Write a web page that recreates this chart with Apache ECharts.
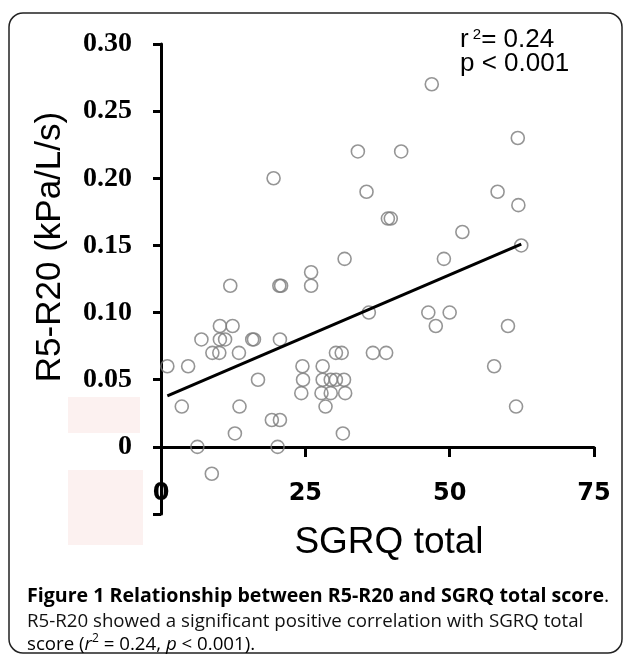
<!DOCTYPE html>
<html>
<head>
<meta charset="utf-8">
<script src="https://cdn.jsdelivr.net/npm/echarts@6/dist/echarts.min.js"></script>
<style>
html,body{margin:0;padding:0;background:#fff;}
#c{width:629px;height:656px;}
</style>
</head>
<body>
<div id="c"></div>
<script>
// SGRQ total score (x) and R5-R20 (kPa/L/s) (y)
var sgrq = [1.1, 3.6, 4.7, 6.3, 7.0, 8.8, 8.9, 10.1, 10.2, 10.2, 11.1, 12.0, 12.4, 12.8, 13.5, 13.6,
  15.8, 16.1, 16.8, 19.2, 19.5, 20.2, 20.6, 20.6, 20.5, 20.8, 24.5, 24.6, 24.3, 26.0, 26.0,
  28.0, 28.0, 27.8, 28.5, 29.4, 29.4, 30.3, 30.3, 31.3, 31.7, 31.9, 31.5, 31.8, 34.1, 35.6,
  36.0, 36.7, 39.0, 39.3, 39.8, 41.6, 46.3, 46.9, 47.6, 49.0, 50.0, 52.2, 57.7, 58.3, 60.1,
  61.5, 61.8, 61.9, 62.4];
var r5r20 = [0.06, 0.03, 0.06, 0.00, 0.08, -0.02, 0.07, 0.07, 0.09, 0.08, 0.08, 0.12, 0.09, 0.01, 0.07, 0.03,
  0.08, 0.08, 0.05, 0.02, 0.20, 0.00, 0.02, 0.08, 0.12, 0.12, 0.06, 0.05, 0.04, 0.13, 0.12,
  0.06, 0.05, 0.04, 0.03, 0.05, 0.04, 0.05, 0.07, 0.07, 0.05, 0.04, 0.01, 0.14, 0.22, 0.19,
  0.10, 0.07, 0.07, 0.17, 0.17, 0.22, 0.10, 0.27, 0.09, 0.14, 0.10, 0.16, 0.06, 0.19, 0.09,
  0.03, 0.23, 0.18, 0.15];
// regression line end points
var fitX = [1.1, 62.4];
var fitY = [0.038, 0.151];

var pts = sgrq.map(function (x, i) { return [x, r5r20[i]]; });
var fit = fitX.map(function (x, i) { return [x, fitY[i]]; });

var chart = echarts.init(document.getElementById('c'), null, {renderer: 'canvas'});
chart.setOption({
  backgroundColor: '#fff',
  animation: false,
  grid: {left: 161, right: 35, top: 44, bottom: 142, containLabel: false},
  xAxis: {
    type: 'value', min: 0, max: 75, interval: 25,
    offset: -67,
    axisLine: {show: true, onZero: false, lineStyle: {color: '#000', width: 3}},
    axisTick: {show: true, length: 10, lineStyle: {color: '#000', width: 3}},
    axisLabel: {
      margin: 35, color: '#000', fontFamily: 'DejaVu Sans', fontWeight: 'bold', fontSize: 24
    },
    splitLine: {show: false}
  },
  yAxis: {
    type: 'value', min: -0.05, max: 0.30, interval: 0.05,
    axisLine: {show: true, onZero: false, lineStyle: {color: '#000', width: 3}},
    axisTick: {show: true, length: 8, lineStyle: {color: '#000', width: 3}},
    axisLabel: {
      margin: 29, color: '#000', fontFamily: 'Liberation Serif', fontWeight: 'bold', fontSize: 28,
      formatter: function (v) {
        if (v < -0.001) return '';
        if (Math.abs(v) < 1e-9) return '0';
        return v.toFixed(2);
      }
    },
    splitLine: {show: false}
  },
  series: [
    {
      type: 'scatter', data: pts, symbol: 'circle', symbolSize: 13,
      itemStyle: {color: 'rgba(0,0,0,0)', borderColor: '#7a7a7a', borderWidth: 1.6}
    },
    {
      type: 'line', data: fit, symbol: 'none',
      lineStyle: {color: '#000', width: 3}
    }
  ],
  graphic: [
    {type: 'rect', silent: true, z: -10, shape: {x: 9, y: 13, width: 613, height: 640, r: 14},
      style: {fill: 'none', stroke: '#222', lineWidth: 1.5}},
    {type: 'rect', silent: true, z: -5, shape: {x: 68, y: 397, width: 72, height: 36},
      style: {fill: '#fcf1f0'}},
    {type: 'rect', silent: true, z: -5, shape: {x: 68, y: 470, width: 75, height: 75},
      style: {fill: '#fcf1f0'}},
    {type: 'text', silent: true, x: 50, y: 247, rotation: Math.PI / 2,
      style: {text: 'R5-R20 (kPa/L/s)', font: '35px "Liberation Sans"', fill: '#000',
        align: 'center', verticalAlign: 'middle'}},
    {type: 'text', silent: true, x: 389, y: 543,
      style: {text: 'SGRQ total', font: '37px "Liberation Sans"', fill: '#000',
        align: 'center', verticalAlign: 'middle'}},
    {type: 'text', silent: true, x: 460, y: 40,
      style: {text: '{a|r}{s| 2}{a|= 0.24}', fill: '#000', align: 'left', verticalAlign: 'middle',
        rich: {a: {fontFamily: 'Liberation Sans', fontSize: 26, color: '#000', lineHeight: 26},
               s: {fontFamily: 'Liberation Sans', fontSize: 15, color: '#000', verticalAlign: 'top', lineHeight: 26}}}},
    {type: 'text', silent: true, x: 460, y: 64,
      style: {text: 'p < 0.001', font: '26px "Liberation Sans"', fill: '#000', align: 'left', verticalAlign: 'middle'}},
    {type: 'text', silent: true, x: 27, y: 596,
      style: {text: '{b|Figure 1 Relationship between R5-R20 and SGRQ total score}{a|.}', align: 'left', verticalAlign: 'middle',
        rich: {b: {fontFamily: 'Open Sans', fontWeight: 'bold', fontSize: 19.6, color: '#000'},
               a: {fontFamily: 'Open Sans', fontSize: 19.6, color: '#000'}}}},
    {type: 'text', silent: true, x: 27, y: 622,
      style: {text: 'R5-R20 showed a significant positive correlation with SGRQ total', font: '18.7px "Open Sans"',
        fill: '#111', align: 'left', verticalAlign: 'middle'}},
    {type: 'text', silent: true, x: 27, y: 645,
      style: {text: '{a|score (}{i|r}{s|2}{a| = 0.24, }{i|p}{a| < 0.001).}', align: 'left', verticalAlign: 'middle',
        rich: {a: {fontFamily: 'Open Sans', fontSize: 18.7, color: '#111', lineHeight: 24},
               i: {fontFamily: 'Open Sans', fontStyle: 'italic', fontSize: 18.7, color: '#111', lineHeight: 24},
               s: {fontFamily: 'Open Sans', fontSize: 12, color: '#111', verticalAlign: 'top', lineHeight: 24}}}}
  ]
});
</script>
</body>
</html>
